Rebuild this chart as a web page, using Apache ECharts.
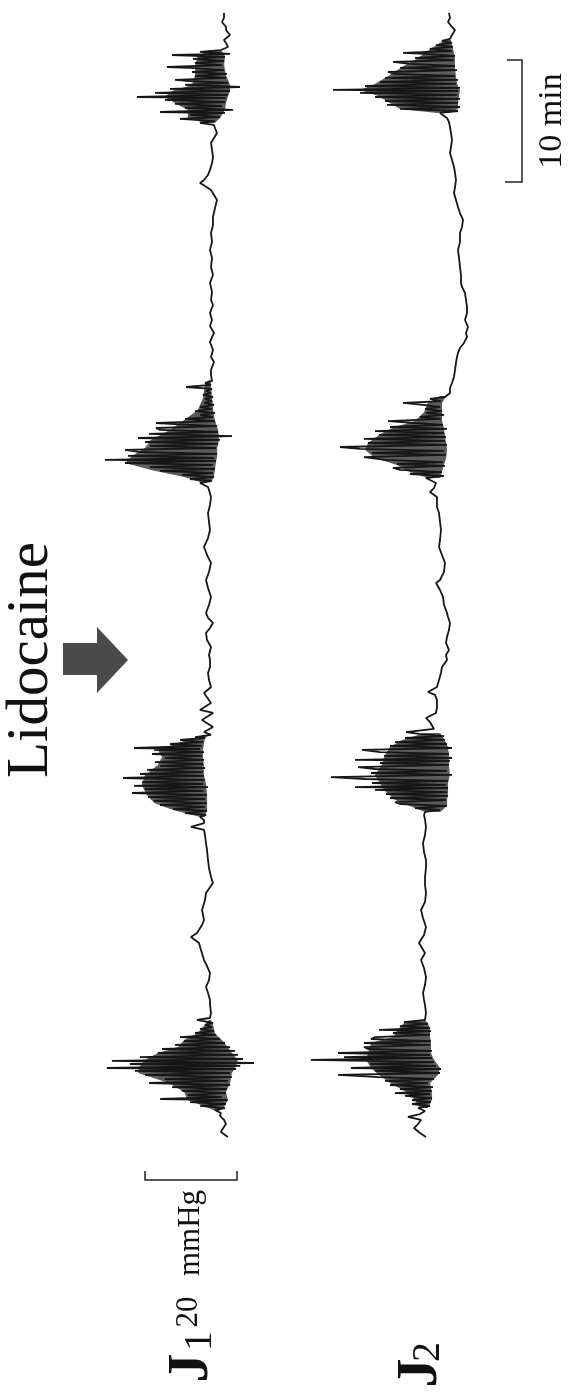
<!DOCTYPE html>
<html>
<head>
<meta charset="utf-8">
<script src="https://cdn.jsdelivr.net/npm/echarts@6/dist/echarts.min.js"></script>
<style>
html,body{margin:0;padding:0;background:#fff;}
#chart{width:574px;height:1394px;}
</style>
</head>
<body>
<div id="chart"></div>
<script>
// Traces: [time (min), pressure (mmHg)], time runs from the bottom of the page upward
const j1Start = [[0.25,7.0],[0.66,8.5],[0.98,8.0],[1.31,7.4],[1.64,7.8],[1.97,8.7],[2.21,8.5]];
const j1Burst1 = [[2.46,9.8],[2.62,7.6],[2.79,13.0],[2.95,7.4],[3.11,15.2],[3.28,7.0],[3.36,21.7],[3.52,8.3],[3.69,15.7],[3.85,7.4],[4.02,17.0],[4.18,7.2],[4.34,19.1],[4.51,6.5],[4.67,24.1],[4.84,7.0],[5.0,20.7],[5.16,6.1],[5.33,25.0],[5.49,6.5],[5.66,27.2],[5.82,5.2],[5.9,33.3],[6.07,4.3],[6.23,28.3],[6.31,1.3],[6.48,32.2],[6.64,3.7],[6.8,26.1],[6.97,4.8],[7.13,22.2],[7.3,5.4],[7.46,21.3],[7.62,6.5],[7.79,18.5],[7.95,7.6],[8.11,16.5],[8.28,8.7],[8.44,17.4],[8.61,9.6],[8.77,14.1],[8.93,10.0],[9.1,13.0],[9.26,10.4],[9.43,12.0],[9.59,10.2],[9.84,13.7],[10.0,10.9]];
const j1Rest1 = [[10.41,10.65],[11.07,10.87],[11.48,10.87],[12.05,11.3],[12.54,11.74],[13.11,11.09],[13.69,10.87],[14.26,11.52],[14.75,12.17],[15.57,12.83],[16.15,13.26],[16.64,15.0],[16.97,13.7],[17.62,12.6],[18.03,12.17],[18.85,12.6],[19.67,11.96],[20.25,11.74],[21.07,10.22],[21.56,10.65],[22.3,11.09],[22.95,11.3],[23.77,11.52],[24.34,11.74],[25.0,11.96],[25.41,12.17],[25.66,15.0],[25.98,12.17],[26.23,12.17]];
const j1Burst2 = [[26.48,13.04],[26.64,11.74],[26.8,16.3],[26.97,11.52],[27.13,18.91],[27.3,11.96],[27.46,21.74],[27.62,11.52],[27.79,23.04],[27.95,11.96],[28.11,24.35],[28.28,11.52],[28.44,27.83],[28.61,12.17],[28.77,25.0],[28.93,11.3],[29.02,27.39],[29.18,12.39],[29.34,25.65],[29.51,11.96],[29.67,29.78],[29.84,12.17],[30.0,26.09],[30.16,12.39],[30.33,24.57],[30.49,11.96],[30.66,21.74],[30.82,12.39],[30.98,22.83],[31.15,12.17],[31.31,20.65],[31.48,12.61],[31.64,23.48],[31.8,12.17],[31.97,23.04],[32.05,13.04],[32.13,27.39],[32.3,12.61],[32.46,19.57],[32.62,12.39],[32.79,17.39],[32.95,11.96],[33.03,14.13]];
const j1Rest2 = [[33.2,10.65],[33.44,12.17],[33.85,10.22],[34.43,12.61],[35.0,10.22],[35.25,13.04],[35.82,10.65],[36.64,12.17],[37.13,10.65],[37.7,11.09],[38.28,11.3],[38.77,10.87],[39.34,10.87],[39.75,11.09],[40.41,10.65],[40.98,11.52],[41.56,11.74],[41.97,10.87],[42.38,10.22],[42.79,11.3],[43.2,11.74],[43.85,11.09],[44.51,10.65],[45.25,11.3],[45.9,11.74],[46.56,11.09],[47.3,10.65],[47.95,11.52],[48.61,12.17],[49.34,11.3],[50.0,10.87],[50.66,11.09],[51.39,11.3],[52.05,10.87],[52.7,10.65],[53.28,11.09],[53.52,11.3]];
const j1Burst3 = [[53.85,13.04],[54.02,10.43],[54.18,15.22],[54.34,10.0],[54.51,16.96],[54.67,10.22],[54.84,21.74],[55.0,9.78],[55.16,23.91],[55.33,10.22],[55.49,29.35],[55.66,9.57],[55.74,33.7],[55.9,10.0],[56.07,28.7],[56.23,9.35],[56.39,26.09],[56.56,29.35],[56.72,9.57],[56.89,23.91],[57.05,9.13],[57.21,25.0],[57.38,8.7],[57.54,26.52],[57.7,6.09],[57.87,24.13],[58.03,9.13],[58.2,21.74],[58.36,22.61],[58.52,9.35],[58.69,19.57],[58.77,22.61],[58.93,9.78],[59.1,16.3],[59.26,10.22],[59.43,13.04],[59.59,9.78],[59.75,14.13],[59.92,10.43],[60.08,13.04],[60.25,10.0],[60.41,12.17],[60.57,10.43],[60.74,11.96],[60.9,10.22],[61.07,12.39],[61.23,10.65],[61.39,11.74],[61.56,10.43],[61.72,16.09],[61.89,10.65],[62.05,11.96],[62.21,10.43]];
const j1Rest3 = [[62.7,10.65],[63.11,10.65],[63.77,10.0],[64.18,10.65],[64.75,10.22],[65.41,10.87],[66.15,10.0],[66.72,10.87],[67.21,10.43],[67.79,10.87],[68.44,10.22],[68.85,10.65],[69.51,10.43],[70.25,10.87],[70.9,10.22],[71.56,10.65],[72.3,10.43],[72.95,10.87],[73.61,10.43],[74.34,10.65],[75.0,10.22],[75.66,10.22],[76.39,9.78],[77.05,9.35],[77.46,10.0],[77.87,10.65],[78.2,11.96],[78.44,13.04],[78.69,12.17],[79.1,11.3],[79.51,10.87],[80.08,10.43],[80.57,10.22],[81.15,10.43],[81.72,10.65],[82.13,10.0],[82.54,9.35],[82.95,9.78],[83.2,10.0]];
const j1Burst4 = [[83.36,13.04],[83.52,9.78],[83.69,17.39],[83.85,8.7],[84.02,15.22],[84.18,7.61],[84.26,21.74],[84.43,5.87],[84.59,16.3],[84.75,8.26],[84.92,18.48],[85.08,7.61],[85.25,20.65],[85.41,7.39],[85.49,26.74],[85.66,6.96],[85.82,22.83],[85.98,6.52],[86.15,19.57],[86.31,4.35],[86.48,16.3],[86.64,6.96],[86.8,15.22],[86.89,18.48],[87.05,7.39],[87.21,14.13],[87.38,7.17],[87.54,14.78],[87.7,7.83],[87.87,15.22],[87.95,20.22],[88.11,8.26],[88.28,14.13],[88.44,7.83],[88.61,14.57],[88.77,7.61],[88.93,19.13],[89.02,6.52],[89.18,13.04],[89.34,8.48]];
const j1End = [[89.59,6.96],[89.92,7.39],[90.16,7.83],[90.57,6.52],[90.98,7.39],[91.23,7.39],[91.64,8.26],[91.97,7.83],[92.38,7.83]];

const j2Start = [[0.25,16.09],[0.57,17.39],[0.98,18.7],[1.31,17.83],[1.64,17.17],[1.89,20.0],[2.13,17.39],[2.38,16.3]];
const j2Burst1 = [[2.62,17.83],[2.79,15.22],[2.95,19.13],[3.11,15.0],[3.28,19.13],[3.44,14.78],[3.61,20.65],[3.77,15.22],[3.85,22.83],[4.02,14.78],[4.18,21.74],[4.34,14.57],[4.51,23.91],[4.67,15.65],[4.84,25.0],[5.0,14.35],[5.16,26.3],[5.33,35.22],[5.49,13.04],[5.66,27.17],[5.82,12.83],[5.9,32.39],[6.07,13.91],[6.23,28.26],[6.39,14.35],[6.56,41.09],[6.72,14.78],[6.8,33.91],[6.97,15.22],[7.13,35.22],[7.3,14.78],[7.46,28.7],[7.62,29.57],[7.79,15.22],[7.95,29.57],[8.11,15.0],[8.28,28.04],[8.44,27.17],[8.61,15.22],[8.77,23.26],[8.93,15.0],[9.02,26.3],[9.18,15.22],[9.34,21.74],[9.51,15.65],[9.67,20.87]];
const j2Rest1 = [[9.84,16.3],[10.41,16.09],[11.07,16.3],[11.48,16.52],[12.05,16.74],[12.7,16.3],[13.36,16.09],[14.1,16.52],[14.75,17.17],[15.33,16.3],[16.15,17.61],[16.8,16.52],[17.46,16.09],[18.2,16.74],[18.85,17.17],[19.51,16.3],[20.25,16.09],[20.9,16.3],[21.56,16.3],[22.3,16.09],[22.95,16.09],[23.61,16.52],[24.34,16.74],[25.0,16.3],[25.66,16.09],[26.23,16.3],[26.64,16.52]];
const j2Burst2 = [[26.89,16.3],[27.05,13.04],[27.21,18.48],[27.38,11.52],[27.54,21.74],[27.7,22.83],[27.87,11.74],[28.03,23.91],[28.2,11.3],[28.36,24.78],[28.52,11.52],[28.69,27.17],[28.85,11.3],[28.93,31.52],[29.1,11.74],[29.26,27.83],[29.43,11.3],[29.59,29.35],[29.75,36.74],[29.92,10.43],[30.08,28.04],[30.25,11.52],[30.41,27.17],[30.57,30.87],[30.74,11.09],[30.9,26.09],[31.07,10.87],[31.15,31.52],[31.31,10.43],[31.48,25.22],[31.64,11.09],[31.8,26.09],[31.97,30.0],[32.13,10.43],[32.3,23.91],[32.46,11.52],[32.62,22.83],[32.79,11.96],[32.95,20.65],[33.11,12.17],[33.28,17.61],[33.44,20.43]];
const j2Rest2 = [[33.69,14.35],[33.85,14.35],[34.26,15.22],[34.59,16.09],[35.0,13.91],[35.49,13.7],[36.07,13.7],[36.48,14.13],[36.72,15.65],[37.13,13.7],[37.7,13.26],[38.28,12.83],[38.77,12.61],[39.34,11.52],[39.75,11.74],[40.16,11.09],[40.74,11.74],[41.23,11.52],[41.8,11.09],[42.38,10.87],[42.87,11.3],[43.2,11.52],[43.85,12.17],[44.51,12.39],[45.08,13.04],[45.66,13.91],[45.9,13.04],[46.56,12.17],[47.3,11.96],[47.95,12.61],[48.61,13.26],[49.18,13.04],[50.0,12.83],[50.66,13.04],[51.39,13.26],[51.89,13.7],[52.46,13.7],[52.7,13.7],[53.11,15.22],[53.44,14.35],[53.85,13.91]];
const j2Burst3 = [[54.26,16.09],[54.43,12.17],[54.59,19.57],[54.75,12.61],[54.92,21.74],[55.08,23.26],[55.25,11.96],[55.41,22.39],[55.57,12.39],[55.74,25.0],[55.98,29.57],[56.15,11.74],[56.31,27.83],[56.48,12.17],[56.64,30.43],[56.8,34.78],[56.97,11.52],[57.13,28.7],[57.3,11.96],[57.46,29.57],[57.62,11.74],[57.79,26.3],[57.95,12.17],[58.11,27.17],[58.28,11.52],[58.44,23.91],[58.61,12.39],[58.77,18.48],[58.93,24.35],[59.1,12.83],[59.26,17.39],[59.43,12.17],[59.59,16.09],[59.75,12.61],[59.92,16.3],[60.08,13.04],[60.25,16.74],[60.41,21.09],[60.57,12.83],[60.74,15.22],[60.9,11.96]];
const j2Rest3 = [[61.23,10.87],[61.64,10.87],[62.05,10.43],[62.54,10.0],[63.11,9.78],[63.69,9.57],[64.18,9.35],[64.51,9.13],[64.92,8.7],[65.33,7.83],[65.82,7.17],[66.15,7.39],[66.64,6.96],[67.21,7.61],[67.79,7.17],[68.28,7.17],[68.85,7.39],[69.43,7.61],[69.92,8.26],[70.25,8.48],[70.9,8.48],[71.56,8.7],[72.3,8.91],[72.95,9.13],[73.61,8.7],[74.34,8.7],[74.84,8.26],[75.41,8.04],[75.98,8.7],[76.48,9.13],[77.05,9.57],[77.62,10.0],[78.11,9.78],[78.69,9.57],[79.26,9.78],[79.75,10.0],[80.33,10.43],[80.9,10.87],[81.39,10.65],[81.97,10.43],[82.54,10.65],[83.03,10.87],[83.44,11.09],[83.77,11.52]];
const j2Burst4 = [[84.18,13.04],[84.34,9.13],[84.51,21.74],[84.67,8.7],[84.84,24.57],[85.0,9.13],[85.16,25.0],[85.33,8.7],[85.49,27.17],[85.66,9.35],[85.82,30.43],[85.98,9.13],[86.07,36.3],[86.23,8.7],[86.39,29.35],[86.56,9.57],[86.72,26.09],[86.89,9.13],[87.05,25.0],[87.21,9.78],[87.38,22.83],[87.54,24.35],[87.7,9.35],[87.87,21.74],[88.03,9.78],[88.2,19.57],[88.36,23.26],[88.52,10.0],[88.69,18.48],[88.85,9.78],[89.02,16.3],[89.1,21.09],[89.26,10.43],[89.43,15.22],[89.59,10.22],[89.75,13.91],[89.92,10.43],[90.08,12.61],[90.25,10.87]];
const j2End = [[90.57,10.43],[90.98,9.78],[91.23,10.43],[91.64,11.3],[91.97,10.87],[92.38,11.09]];

// Dense core of each burst: [time (min), outer pressure (mmHg), inner pressure (mmHg)]
const j1Core1 = [[2.3,9.1,9.1],[2.7,11.7,7.8],[3.28,15.7,7.0],[3.93,16.5,7.4],[4.67,19.8,6.5],[5.49,26.5,6.1],[6.07,26.1,5.2],[6.56,25.0,4.8],[7.13,22.2,6.1],[7.62,17.8,7.0],[8.2,16.5,8.3],[8.77,13.5,9.8],[9.43,12.0,10.2],[9.84,11.1,10.7]];
const j1Core2 = [[26.48,13.0,12.0],[27.05,18.9,11.5],[27.62,23.0,11.5],[28.28,24.6,11.5],[29.1,25.7,11.7],[29.92,25.0,12.2],[30.74,22.2,12.2],[31.39,21.3,12.4],[31.97,22.2,12.4],[32.46,18.5,12.2],[32.87,15.2,12.0],[33.2,12.0,11.3]];
const j1Core3 = [[53.93,13.0,10.7],[54.34,16.5,10.0],[54.92,23.7,9.8],[55.49,29.3,9.6],[56.07,27.8,9.3],[56.72,25.0,9.3],[57.38,23.7,8.9],[58.2,19.6,9.1],[59.02,16.5,9.8],[59.84,13.5,10.2],[60.82,12.4,10.4],[61.89,12.0,10.7],[62.3,11.1,10.7]];
const j1Core4 = [[83.36,12.0,9.8],[83.77,15.7,8.7],[84.43,15.7,7.6],[85.0,18.5,7.4],[85.49,20.7,7.0],[85.98,19.1,6.5],[86.48,14.8,6.5],[87.3,14.1,7.4],[88.11,14.1,7.8],[88.85,13.5,7.6],[89.34,10.9,8.5]];
const j2Core1 = [[2.62,17.4,15.7],[3.28,18.5,14.8],[3.85,20.0,14.8],[4.67,23.9,15.2],[5.33,26.3,13.5],[5.9,28.0,13.0],[6.56,29.1,14.3],[7.13,28.7,15.0],[7.95,28.0,15.0],[8.44,23.3,15.2],[9.02,22.2,15.2],[9.59,20.9,15.7],[9.84,17.4,16.3]];
const j2Core2 = [[26.89,16.3,13.0],[27.38,19.6,11.5],[27.87,22.8,11.5],[28.52,24.8,11.3],[29.26,26.1,11.3],[29.92,27.2,10.9],[30.74,25.7,11.1],[31.56,25.0,11.1],[32.21,23.9,11.3],[32.79,21.3,12.0],[33.36,16.3,13.0]];
const j2Core3 = [[54.26,15.7,13.0],[54.75,19.6,12.6],[55.33,22.4,12.2],[55.9,27.2,11.7],[56.56,29.3,11.5],[57.13,28.7,11.7],[57.79,26.3,12.0],[58.36,23.5,12.2],[58.93,18.5,12.6],[59.67,16.5,12.6],[60.41,15.7,12.6],[60.98,13.0,11.7]];
const j2Core4 = [[84.18,13.7,11.5],[84.51,21.7,9.1],[85.0,23.9,9.1],[85.57,26.5,8.9],[86.07,30.4,8.7],[86.56,27.2,9.3],[87.21,24.3,9.6],[87.95,21.3,9.8],[88.69,17.8,9.8],[89.43,15.2,10.2],[90.16,12.0,10.7]];

const traceNames = ['J1', 'J2'];
const traceLetter = 'J';
const traceIndex = ['1', '2'];
const scaleValues = ['20', 'mmHg', '10 min'];
const drugLabel = 'Lidocaine';

const j1 = [].concat(j1Start, j1Burst1, j1Rest1, j1Burst2, j1Rest2, j1Burst3, j1Rest3, j1Burst4, j1End);
const j2 = [].concat(j2Start, j2Burst1, j2Rest1, j2Burst2, j2Rest2, j2Burst3, j2Rest3, j2Burst4, j2End);
const j1Cores = [j1Core1, j1Core2, j1Core3, j1Core4];
const j2Cores = [j2Core1, j2Core2, j2Core3, j2Core4];

const SERIF = '"Liberation Serif", "DejaVu Serif", serif';
const ink = '#161616';
const coreFill = '#5c5c5c';

function coreSeries(cores, axisIndex) {
  return {
    type: 'custom', xAxisIndex: axisIndex, yAxisIndex: axisIndex, silent: true, z: 1,
    data: cores.map((c, i) => [c[0][1], c[0][0], i]),
    renderItem: function (params, api) {
      const core = cores[params.dataIndex];
      const outer = core.map(d => api.coord([d[1], d[0]]));
      const inner = core.slice().reverse().map(d => api.coord([d[2], d[0]]));
      return {type: 'polygon', shape: {points: outer.concat(inner)}, style: {fill: coreFill}};
    }
  };
}

function vText(x, y, text, font) {
  return {type: 'text', x: x, y: y, rotation: Math.PI / 2,
          style: {text: text, font: font, fill: '#111', align: 'center', verticalAlign: 'middle'}};
}

const chart = echarts.init(document.getElementById('chart'), null, {renderer: 'canvas'});
chart.setOption({
  animation: false,
  backgroundColor: '#ffffff',
  grid: [
    {left: 76, width: 184, top: 0, height: 1140},
    {left: 270, width: 230, top: 0, height: 1140}
  ],
  xAxis: [
    {gridIndex: 0, type: 'value', min: 0, max: 40, inverse: true, show: false},
    {gridIndex: 1, type: 'value', min: 0, max: 50, inverse: true, show: false}
  ],
  yAxis: [
    {gridIndex: 0, type: 'value', min: 0, max: 93.44, show: false},
    {gridIndex: 1, type: 'value', min: 0, max: 93.44, show: false}
  ],
  series: [
    coreSeries(j1Cores, 0),
    coreSeries(j2Cores, 1),
    {name: traceNames[0], type: 'line', xAxisIndex: 0, yAxisIndex: 0, symbol: 'none', silent: true, z: 2,
     lineStyle: {color: ink, width: 1.8}, data: j1.map(d => [d[1], d[0]])},
    {name: traceNames[1], type: 'line', xAxisIndex: 1, yAxisIndex: 1, symbol: 'none', silent: true, z: 2,
     lineStyle: {color: ink, width: 1.8}, data: j2.map(d => [d[1], d[0]])}
  ],
  graphic: [
    vText(31, 660, drugLabel, '59px ' + SERIF),
    {type: 'polygon', shape: {points: [[63,643],[97,643],[97,627],[128,660],[97,693],[97,675],[63,675]]},
     style: {fill: '#4a4a4a'}},
    {type: 'polyline', shape: {points: [[507,60],[522,60],[522,182],[505,182]]},
     style: {stroke: '#222', lineWidth: 1.5, fill: null}},
    vText(552, 121, scaleValues[2], '34px ' + SERIF),
    {type: 'polyline', shape: {points: [[145,1171],[145,1180],[237,1180],[237,1171]]},
     style: {stroke: '#222', lineWidth: 1.5, fill: null}},
    vText(191, 1233, scaleValues[1], '31px ' + SERIF),
    vText(189, 1312, scaleValues[0], '31px ' + SERIF),
    vText(192, 1368, traceLetter, 'bold 58px ' + SERIF),
    vText(200, 1341, traceIndex[0], '40px ' + SERIF),
    vText(421, 1373, traceLetter, 'bold 58px ' + SERIF),
    vText(428, 1352, traceIndex[1], '40px ' + SERIF)
  ]
});
</script>
</body>
</html>
